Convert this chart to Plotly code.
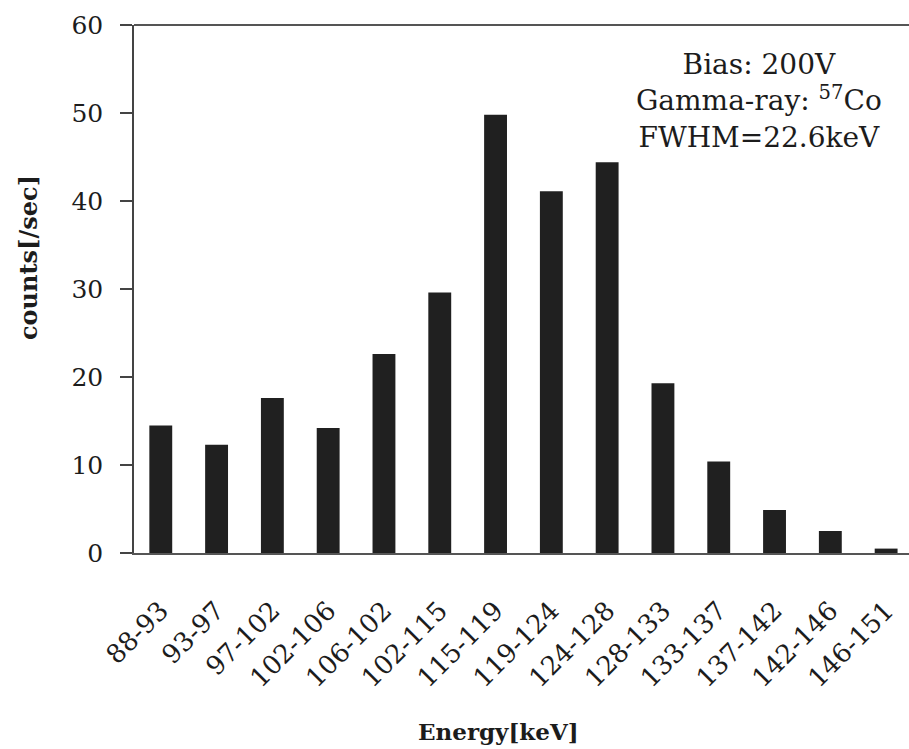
import plotly.graph_objects as go

# Energy bins (keV) and measured count rates
energy_bins = ["88-93", "93-97", "97-102", "102-106", "106-102", "102-115", "115-119",
               "119-124", "124-128", "128-133", "133-137", "137-142", "142-146", "146-151"]
counts = [14.5, 12.3, 17.6, 14.2, 22.6, 29.6, 49.8, 41.1, 44.4, 19.3, 10.4, 4.9, 2.5, 0.5]

y_ticks = [0, 10, 20, 30, 40, 50, 60]

FONT = "DejaVu Serif"
INK = "#1c1c1c"

# plot area in pixels
W, H = 909, 749
ML, MR, MT, MB = 134, 0, 25, 196
PW, PH = W - ML - MR, H - MT - MB

fig = go.Figure(
    go.Bar(
        x=list(range(len(energy_bins))),
        y=counts,
        marker=dict(color="#202020", line=dict(width=0)),
    )
)

fig.update_layout(
    width=W,
    height=H,
    margin=dict(l=ML, r=MR, t=MT, b=MB),
    paper_bgcolor="white",
    plot_bgcolor="white",
    bargap=0.59,
    showlegend=False,
    font=dict(family=FONT, color=INK),
)

fig.update_xaxes(
    range=[-0.48, 13.41],
    tickmode="array",
    tickvals=list(range(len(energy_bins))),
    ticktext=energy_bins,
    tickangle=-45,
    tickfont=dict(size=26, family=FONT, color=INK),
    ticks="",
    ticklabelstandoff=30,
    showline=True,
    linecolor="#555555",
    linewidth=2,
    showgrid=False,
    zeroline=False,
)

fig.update_yaxes(
    range=[0, 60],
    tickmode="array",
    tickvals=y_ticks,
    ticks="outside",
    ticklen=12,
    tickwidth=1.5,
    tickcolor="#444444",
    tickfont=dict(size=25, family=FONT, color=INK),
    ticklabelstandoff=12,
    showline=True,
    linecolor="#444444",
    linewidth=1.5,
    showgrid=False,
    zeroline=False,
)

# top frame edge
fig.add_shape(type="line", xref="paper", yref="paper", x0=0, x1=1, y0=1, y1=1,
              line=dict(color="#555555", width=2))


def px_x(x):
    return (x - ML) / PW


def px_y(y):
    return 1 - (y - MT) / PH


# axis titles
fig.add_annotation(text="<b>counts[/sec]</b>", xref="paper", yref="paper",
                   x=px_x(28), y=px_y(258), textangle=-90, showarrow=False,
                   font=dict(size=24, family=FONT, color=INK),
                   xanchor="center", yanchor="middle")
fig.add_annotation(text="<b>Energy[keV]</b>", xref="paper", yref="paper",
                   x=px_x(498), y=px_y(731), xanchor="center", yanchor="middle",
                   showarrow=False, font=dict(size=23, family=FONT, color=INK))

# measurement conditions
fig.add_annotation(
    text="Bias: 200V<br>Gamma-ray: <sup>57</sup>Co<br>FWHM=22.6keV",
    xref="paper", yref="paper", x=px_x(759), y=px_y(46),
    xanchor="center", yanchor="top", align="center", showarrow=False,
    font=dict(size=28, family=FONT, color=INK),
)

fig.write_html("out.html")
